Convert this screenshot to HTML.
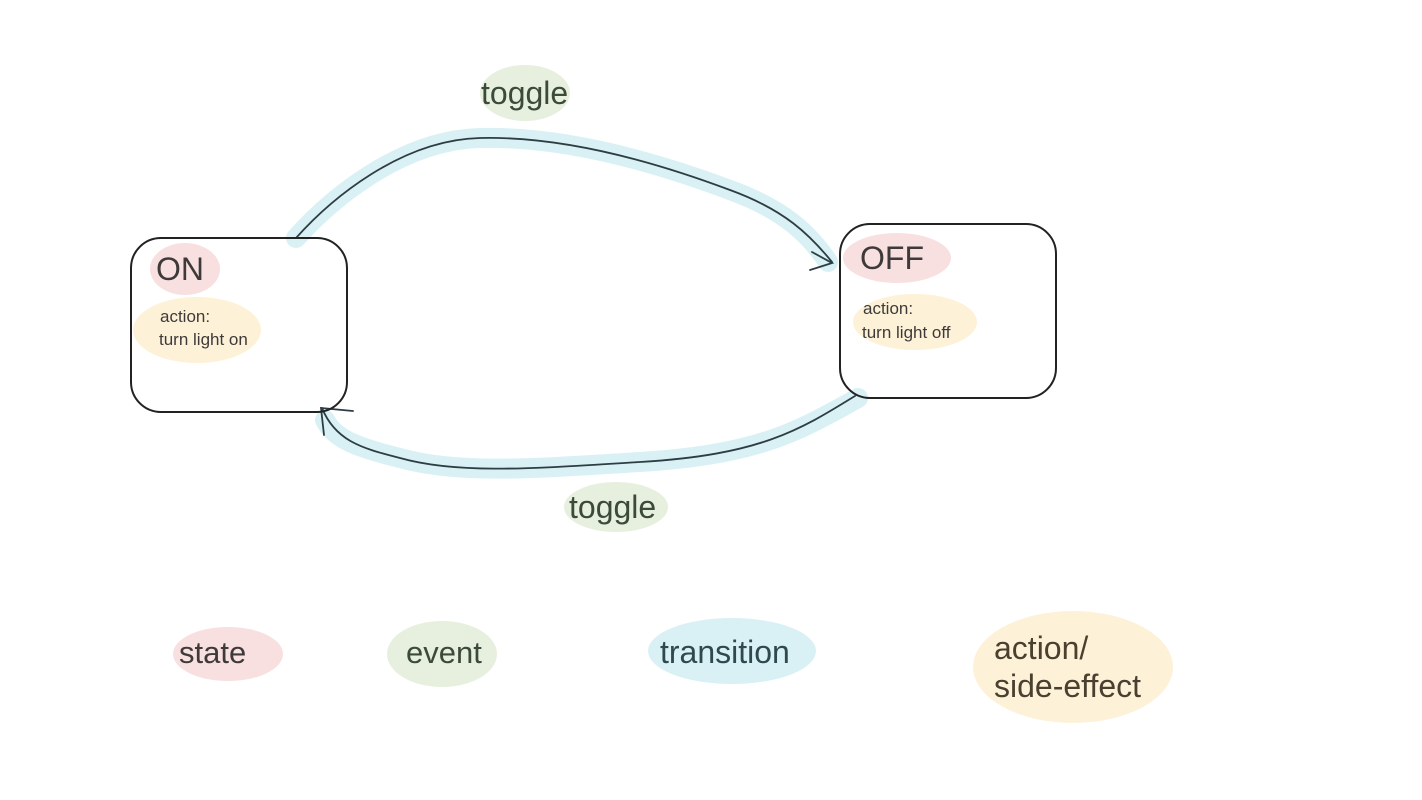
<!DOCTYPE html>
<html><head><style>
html,body{margin:0;padding:0;background:#fff;width:1422px;height:800px;overflow:hidden}
svg{position:absolute;left:0;top:0}
text{font-family:"Liberation Sans",sans-serif;fill:#3f3a3a}
</style></head><body>
<svg width="1422" height="800" viewBox="0 0 1422 800">
<g fill="none" stroke="#d9f1f5" stroke-linecap="round" stroke-linejoin="round">
<path d="M296,238 C330,200 400,140 480,138 C560,136 650,160 730,190 C785,210 810,235 828,262" stroke-width="20"/>
<path d="M858,398 C800,430 760,455 640,462 C540,468 460,475 400,458 C360,448 335,440 325,420" stroke-width="20"/>
</g>
<g fill="none" stroke="#2c3e44" stroke-width="1.8" stroke-linecap="round">
<path d="M296,238 C330,200 400,140 480,138 C560,136 650,160 730,190 C785,210 810,235 832,262"/>
<path d="M812,252 L832,263 L810,270"/>
<path d="M855,396 C800,430 760,455 640,462 C540,468 460,475 400,458 C360,448 335,440 322,408"/>
<path d="M324,435 L321,408 L353,411"/>
</g>
<g fill="none" stroke="#222" stroke-width="2">
<rect x="131" y="238" width="216" height="174" rx="30"/>
<rect x="840" y="224" width="216" height="174" rx="30"/>
</g>
<ellipse cx="185" cy="269" rx="35" ry="26" fill="#f9e0e0"/>
<ellipse cx="197" cy="330" rx="64" ry="33" fill="#fdf2d8"/>
<ellipse cx="897" cy="258" rx="54" ry="25" fill="#f9e0e0"/>
<ellipse cx="915" cy="322" rx="62" ry="28" fill="#fdf2d8"/>
<ellipse cx="525" cy="93" rx="45" ry="28" fill="#e7f0df"/>
<ellipse cx="616" cy="507" rx="52" ry="25" fill="#e7f0df"/>
<ellipse cx="228" cy="654" rx="55" ry="27" fill="#f9e0e0"/>
<ellipse cx="442" cy="654" rx="55" ry="33" fill="#e7f0df"/>
<ellipse cx="732" cy="651" rx="84" ry="33" fill="#d9f1f5"/>
<ellipse cx="1073" cy="667" rx="100" ry="56" fill="#fdf2d8"/>
<text x="156" y="280" font-size="32">ON</text>
<text x="160" y="322" font-size="17">action:</text>
<text x="159" y="345" font-size="17">turn light on</text>
<text x="860" y="269" font-size="32">OFF</text>
<text x="863" y="314" font-size="17">action:</text>
<text x="862" y="338" font-size="17">turn light off</text>
<text x="481" y="104" font-size="32" style="fill:#3c4a3a">toggle</text>
<text x="569" y="518" font-size="32" style="fill:#3c4a3a">toggle</text>
<text x="179" y="663" font-size="31">state</text>
<text x="406" y="663" font-size="31" style="fill:#3c4a3a">event</text>
<text x="660" y="663" font-size="32" style="fill:#2e4a50">transition</text>
<text x="994" y="659" font-size="32" style="fill:#4a4030">action/</text>
<text x="994" y="697" font-size="32" style="fill:#4a4030">side-effect</text>
</svg>
</body></html>
